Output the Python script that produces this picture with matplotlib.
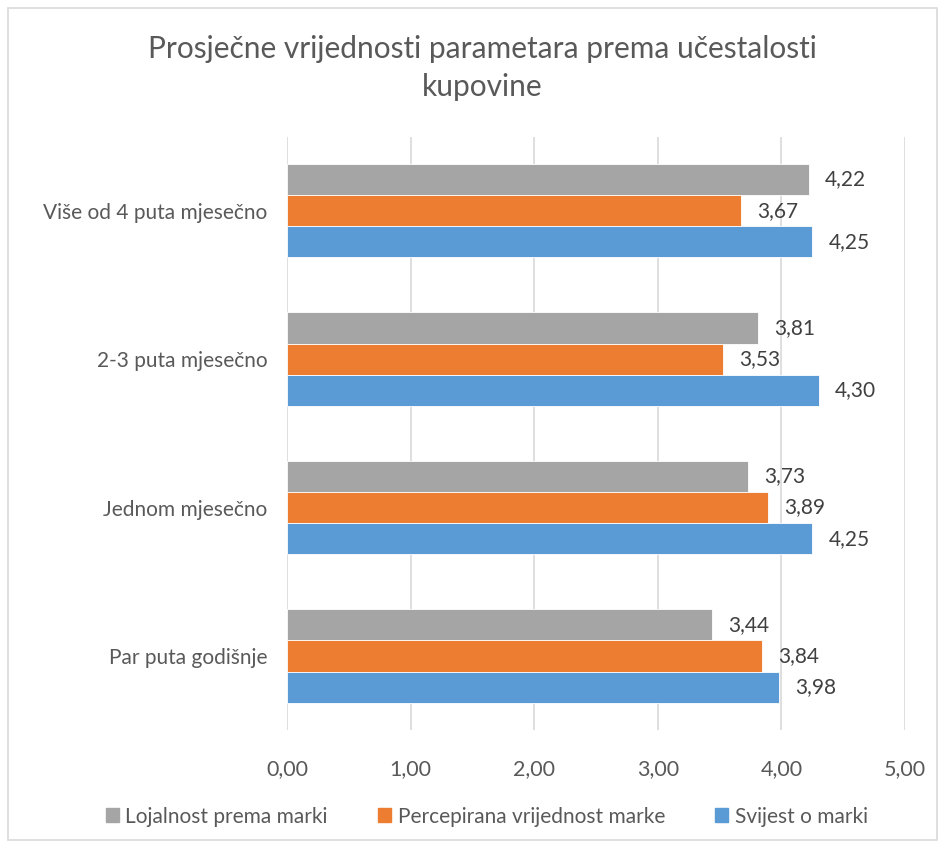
import numpy as np
import matplotlib.pyplot as plt
from matplotlib.patches import Rectangle

categories = ["Par puta godišnje", "Jednom mjesečno", "2-3 puta mjesečno", "Više od 4 puta mjesečno"]
series_names = ["Lojalnost prema marki", "Percepirana vrijednost marke", "Svijest o marki"]
lojalnost = [3.44, 3.73, 3.81, 4.22]
percepirana = [3.84, 3.89, 3.53, 3.67]
svijest = [3.98, 4.25, 4.30, 4.25]
colors = ["#A5A5A5", "#ED7D31", "#5B9BD5"]
xticks = [0, 1, 2, 3, 4, 5]

plt.rcParams["font.family"] = ["Lato", "DejaVu Sans"]
text_color = "#595959"
fs = 15

fig = plt.figure(figsize=(9.45, 8.48), dpi=100)
fig.patches.append(Rectangle((8 / 945, 8 / 848), 929 / 945, 832 / 848, transform=fig.transFigure,
                             fill=False, edgecolor="#D9D9D9", linewidth=1.2))
ax = fig.add_axes([0.3037, 0.139, 0.654, 0.700])

y = np.arange(len(categories))
h = 0.21
# gray on top, orange middle, blue bottom
for vals, off, col in zip([lojalnost, percepirana, svijest], [h, 0, -h], colors):
    bars = ax.barh(y + off, vals, height=h, color=col, edgecolor="white", linewidth=0.6, zorder=3)
    for b, v in zip(bars, vals):
        ax.text(v + 0.13, b.get_y() + b.get_height() / 2, f"{v:.2f}".replace(".", ","),
                va="center", ha="left", fontsize=fs, color="#404040")

ax.set_xlim(0, 5)
ax.set_ylim(-0.5, len(categories) - 0.5)
ax.set_xticks(xticks)
ax.set_xticklabels([f"{t:.2f}".replace(".", ",") for t in xticks], fontsize=fs + 0.5, color=text_color)
ax.set_yticks(y)
ax.set_yticklabels(categories, fontsize=fs, color=text_color)
ax.tick_params(length=0, pad=14)
ax.tick_params(axis="x", pad=21)
ax.grid(axis="x", color="#D9D9D9", linewidth=1.2, zorder=0)
for s in ax.spines.values():
    s.set_visible(False)

fig.text(0.51, 0.92, "Prosječne vrijednosti parametara prema učestalosti\nkupovine",
         ha="center", va="center", fontsize=21.5, color=text_color, linespacing=1.45)

handles = [Rectangle((0, 0), 1, 1, color=c) for c in colors]
fig.legend(handles, series_names, loc="center", bbox_to_anchor=(0.515, 0.037), ncol=3,
           frameon=False, fontsize=fs, handlelength=0.65, handleheight=0.65,
           handletextpad=0.3, columnspacing=2.4, labelcolor=text_color)

fig.savefig("out.png", dpi=100)
